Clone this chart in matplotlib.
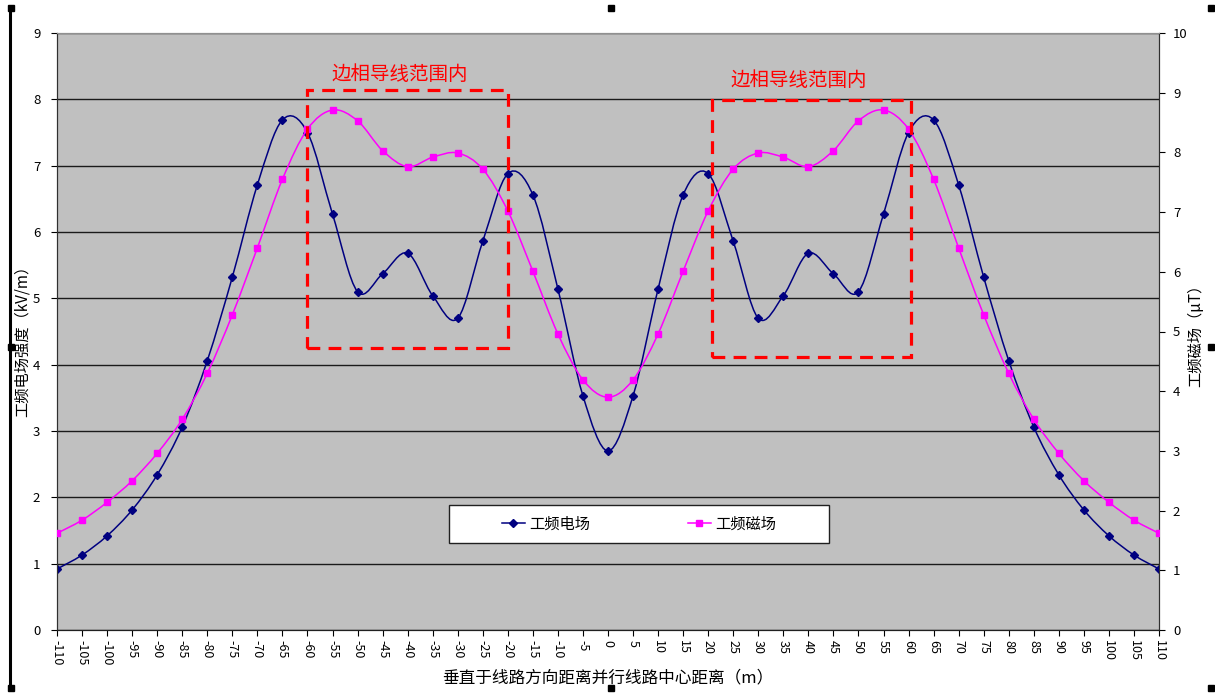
import numpy as np
import matplotlib
matplotlib.use("Agg")
import matplotlib.pyplot as plt
from matplotlib.path import Path
from matplotlib.patches import PathPatch, Rectangle
from matplotlib.lines import Line2D

plt.rcParams['font.family'] = ['Noto Sans CJK SC', 'DejaVu Sans']

# 距离 (m)
distance = list(range(-110, 115, 5))
# 工频电场 (kV/m)
electric = [0.92, 1.13, 1.42, 1.81, 2.34, 3.06, 4.06, 5.32, 6.71, 7.69, 7.50,
            6.27, 5.10, 5.37, 5.68, 5.04, 4.70, 5.86, 6.88, 6.56, 5.14, 3.53,
            2.70,
            3.53, 5.14, 6.56, 6.88, 5.86, 4.70, 5.04, 5.68, 5.37, 5.10, 6.27,
            7.50, 7.69, 6.71, 5.32, 4.06, 3.06, 2.34, 1.81, 1.42, 1.13, 0.92]
# 工频磁场 (μT)
magnetic = [1.62, 1.84, 2.14, 2.50, 2.96, 3.53, 4.30, 5.28, 6.40, 7.55, 8.39,
            8.71, 8.53, 8.03, 7.76, 7.92, 7.99, 7.72, 7.02, 6.01, 4.96, 4.19,
            3.90,
            4.19, 4.96, 6.01, 7.02, 7.72, 7.99, 7.92, 7.76, 8.03, 8.53, 8.71,
            8.39, 7.55, 6.40, 5.28, 4.30, 3.53, 2.96, 2.50, 2.14, 1.84, 1.62]

# 边相导线范围 (x0, x1, y0, y1) in left-axis units
zones = [(-60, -20, 4.25, 8.14), (20.7, 60.5, 4.12, 7.99)]
zone_label = "边相导线范围内"

E_COLOR = "#000080"
B_COLOR = "#FF00FF"


def smooth_path(xs, ys):
    # excel-like smoothed line (catmull-rom as bezier segments)
    pts = np.column_stack([xs, ys]).astype(float)
    n = len(pts)
    verts = [pts[0]]
    codes = [Path.MOVETO]
    for i in range(n - 1):
        p0 = pts[i - 1] if i > 0 else pts[i]
        p1 = pts[i]
        p2 = pts[i + 1]
        p3 = pts[i + 2] if i + 2 < n else pts[i + 1]
        verts += [p1 + (p2 - p0) / 6, p2 - (p3 - p1) / 6, p2]
        codes += [Path.CURVE4] * 3
    return Path(verts, codes)


fig = plt.figure(figsize=(12.15, 6.93), dpi=100)
ax = fig.add_axes([57 / 1215, 1 - 630 / 693, 1102 / 1215, 597 / 693])
ax.set_facecolor("#C0C0C0")
ax2 = ax.twinx()

ax.set_xlim(-110, 110)
ax.set_ylim(0, 9)
ax2.set_ylim(0, 10)

ax.set_yticks(range(0, 10))
ax2.set_yticks(range(0, 11))
ax.set_xticks(distance)
ax.set_xticklabels([str(d) for d in distance], rotation=-90, fontsize=9)
ax.yaxis.grid(True, color="#1a1a1a", lw=1.0)
ax.set_axisbelow(True)
ax.tick_params(axis="x", direction="out", length=4, pad=3)
ax.tick_params(axis="y", direction="out", length=4, labelsize=9.5, pad=8)
ax2.tick_params(axis="y", direction="out", length=4, labelsize=9.5, pad=6)

for a in (ax, ax2):
    a.spines["top"].set_color("#909090")
    a.spines["left"].set_color("#303030")
    a.spines["right"].set_color("#303030")
    a.spines["bottom"].set_color("#202020")

# 工频电场
ax.add_patch(PathPatch(smooth_path(distance, electric), fill=False,
                       edgecolor=E_COLOR, lw=1.1, zorder=3))
ax.plot(distance, electric, ls="none", marker="D", ms=4.5, color=E_COLOR, zorder=4)

# 工频磁场
ax2.add_patch(PathPatch(smooth_path(distance, magnetic), fill=False,
                        edgecolor=B_COLOR, lw=1.1, zorder=3))
ax2.plot(distance, magnetic, ls="none", marker="s", ms=5, color=B_COLOR, zorder=4)

# 红色虚线框
for x0, x1, y0, y1 in zones:
    ax2.add_patch(Rectangle((x0, y0 * 10 / 9), x1 - x0, (y1 - y0) * 10 / 9,
                            fill=False, edgecolor="#FF0000", lw=2.3,
                            ls=(0, (4, 2.6)), zorder=5))
ax.text(-41.5, 8.37, zone_label, color="#FF0000", fontsize=14,
        ha="center", va="center")
ax.text(38.1, 8.29, zone_label, color="#FF0000", fontsize=14,
        ha="center", va="center")

ax.set_xlabel("垂直于线路方向距离并行线路中心距离（m）", fontsize=12, labelpad=3)
ax.set_ylabel("工频电场强度（kV/m）", fontsize=11)
ax.yaxis.set_label_coords(-26 / 1102, 0.49)
ax2.set_ylabel("工频磁场（μT）", fontsize=11)
ax2.yaxis.set_label_coords(1130 / 1102, 0.50)

# 图例
ax2.add_patch(Rectangle((392 / 1102, 87 / 597), 380 / 1102, 38 / 597,
                        transform=ax2.transAxes, facecolor="white",
                        edgecolor="#202020", lw=1.0, zorder=6))
handles = [Line2D([], [], color=E_COLOR, marker="D", ms=4.5, lw=1.1),
           Line2D([], [], color=B_COLOR, marker="s", ms=5, lw=1.1)]
leg = ax2.legend(handles, ["工频电场", "工频磁场"], loc="center",
                 bbox_to_anchor=(582 / 1102, 106 / 597), frameon=False, ncol=2,
                 columnspacing=6.4, handlelength=1.5, handletextpad=0.3,
                 fontsize=11)
leg.set_zorder(7)

# chart area border and selection handles
fig.add_artist(Line2D([10 / 1215, 10 / 1215], [1 - 8 / 693, 1 - 688 / 693],
                      color="black", lw=2.2))
for hx, hy in [(11, 8), (611, 8), (1211, 8), (11, 347), (1211, 347),
               (11, 688), (611, 688), (1211, 688)]:
    fig.add_artist(Line2D([hx / 1215], [1 - hy / 693], marker="s", ms=4,
                          color="black", ls="none"))

fig.savefig("out.png", dpi=100, facecolor="white")
